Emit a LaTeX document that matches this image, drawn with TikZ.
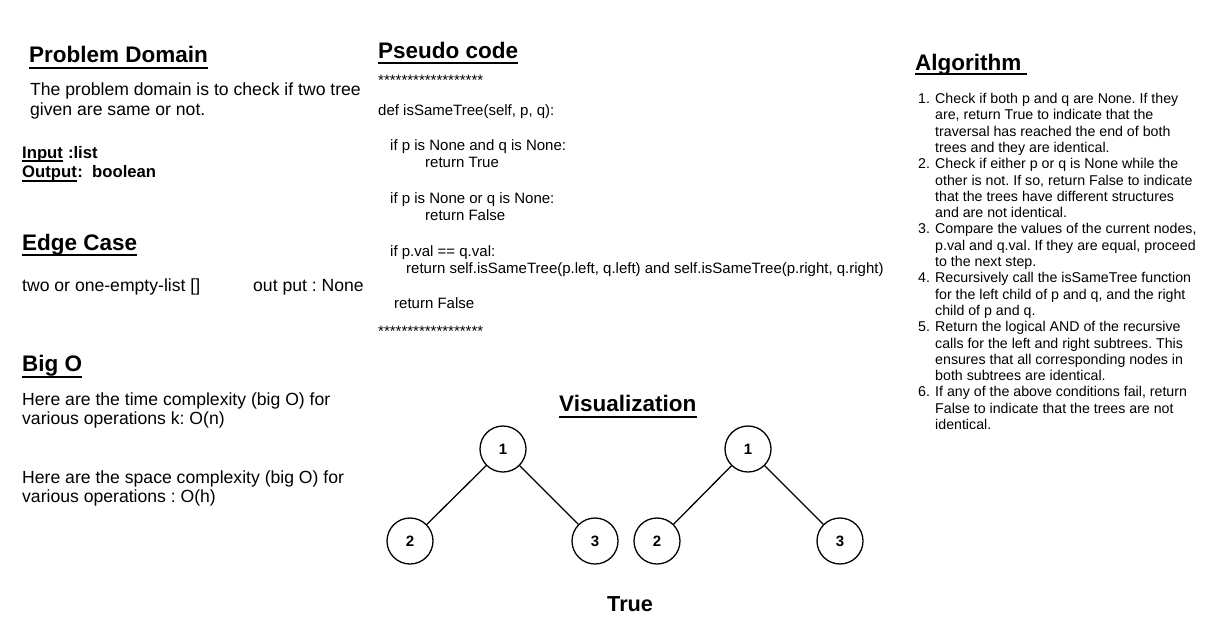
\documentclass[tikz,border=0pt]{standalone}
\usepackage{fontspec}
\setmainfont{Liberation Sans}
\frenchspacing
\begin{document}
\begin{tikzpicture}[x=1pt,y=-1pt]

    \tikzset{txt/.style={anchor=base west,inner sep=0pt},
        head/.style={txt,font=\bfseries\fontsize{22.5}{26}\selectfont},
        body/.style={txt,font=\fontsize{17.6}{21}\selectfont},
        io/.style={txt,font=\bfseries\fontsize{16.7}{20}\selectfont},
        code/.style={txt,font=\fontsize{15}{17}\selectfont},
        algo/.style={txt,font=\fontsize{14.2}{16.3}\selectfont},
        uline/.style={line width=2pt},
        treenode/.style={draw,shape=circle,line width=1.3pt,minimum size=46pt,inner sep=0pt,font=\bfseries\fontsize{15}{18}\selectfont}}
    \useasboundingbox (0,0) rectangle (1207,633);

    % Problem Domain
    \node[head] (pd) at (29,62) {Problem Domain};
    \node[body] (pd1) at (30,95) {The problem domain is to check if two tree};
    \node[body] (pd2) at (30,115) {given are same or not.};
    \node[io] (inw) at (22,158) {Input};
    \node[io] (inl) at (inw.base east) {\ :list};
    \node[io] (outw) at (22,177) {Output};
    \node[io] (outl) at (outw.base east) {:\ \ boolean};

    % Edge Case
    \node[head] (ec) at (22,250) {Edge Case};
    \node[body] (ec1) at (22,291) {two or one-empty-list []};
    \node[body] (ec2) at (253,291) {out put : None};

    % Big O
    \node[head] (bo) at (22,371) {Big O};
    \node[body] (bo1) at (22,405) {Here are the time complexity (big O) for};
    \node[body] (bo2) at (22,424) {various operations k: O(n)};
    \node[body] (bo3) at (22,483) {Here are the space complexity (big O) for};
    \node[body] (bo4) at (22,502) {various operations : O(h)};

    % Pseudo code
    \node[head] (ps) at (378,58) {Pseudo code};
    \node[code] (st1) at (378,85) {******************};
    \node[code] (c1) at (378,115) {def isSameTree(self, p, q):};
    \node[code] (c2) at (390,150) {if p is None and q is None:};
    \node[code] (c3) at (425,167) {return True};
    \node[code] (c4) at (390,203) {if p is None or q is None:};
    \node[code] (c5) at (425,220) {return False};
    \node[code] (c6) at (390,256) {if p.val == q.val:};
    \node[code] (c7) at (406,273) {return self.isSameTree(p.left, q.left) and self.isSameTree(p.right, q.right)};
    \node[code] (c8) at (394,308) {return False};
    \node[code] (st2) at (378,336) {******************};

    % Algorithm
    \node[head] (al) at (915,70) {Algorithm};
    \foreach \k/\num/\txt in {0/1./{Check if both p and q are None. If they},
        1//{are, return True to indicate that the},
        2//{traversal has reached the end of both},
        3//{trees and they are identical.},
        4/2./{Check if either p or q is None while the},
        5//{other is not. If so, return False to indicate},
        6//{that the trees have different structures},
        7//{and are not identical.},
        8/3./{Compare the values of the current nodes,},
        9//{p.val and q.val. If they are equal, proceed},
        10//{to the next step.},
        11/4./{Recursively call the isSameTree function},
        12//{for the left child of p and q, and the right},
        13//{child of p and q.},
        14/5./{Return the logical AND of the recursive},
        15//{calls for the left and right subtrees. This},
        16//{ensures that all corresponding nodes in},
        17//{both subtrees are identical.},
        18/6./{If any of the above conditions fail, return},
        19//{False to indicate that the trees are not},
        20//{identical.}}{
        \node[algo] (aln\k) at (918,103.5+16.3*\k) {\num};
        \node[algo] (alt\k) at (935,103.5+16.3*\k) {\txt};
    }

    % Visualization
    \node[head] (vis) at (559,411) {Visualization};
    \node[treenode] (a1) at (503,449) {1};
    \node[treenode] (a2) at (410,541) {2};
    \node[treenode] (a3) at (595,541) {3};
    \node[treenode] (b1) at (748,449) {1};
    \node[treenode] (b2) at (657,541) {2};
    \node[treenode] (b3) at (840,541) {3};

    \begin{scope}[every path/.style={line width=1.3pt}]
        \draw (a1) -- (a2);
        \draw (a1) -- (a3);
        \draw (b1) -- (b2);
        \draw (b1) -- (b3);
    \end{scope}

    \node[txt,font=\bfseries\fontsize{21.7}{26}\selectfont] (res) at (607,611) {True};

    % underlines
    \begin{scope}[every path/.style={uline}]
        \draw ([yshift=-6pt]pd.base west) -- ([yshift=-6pt]pd.base east);
        \draw ([yshift=-5pt]ec.base west) -- ([yshift=-5pt]ec.base east);
        \draw ([yshift=-6pt]bo.base west) -- ([yshift=-6pt]bo.base east);
        \draw ([yshift=-5pt]ps.base west) -- ([yshift=-5pt]ps.base east);
        \draw ([yshift=-4pt]al.base west) -- ([yshift=-4pt,xshift=5pt]al.base east);
        \draw ([yshift=-6pt]vis.base west) -- ([yshift=-6pt]vis.base east);
    \end{scope}
    \draw[line width=1.5pt] ([yshift=-3pt]inw.base west) -- ([yshift=-3pt]inw.base east);
    \draw[line width=1.5pt] ([yshift=-4pt]outw.base west) -- ([yshift=-4pt]outw.base east);
\end{tikzpicture}
\end{document}
